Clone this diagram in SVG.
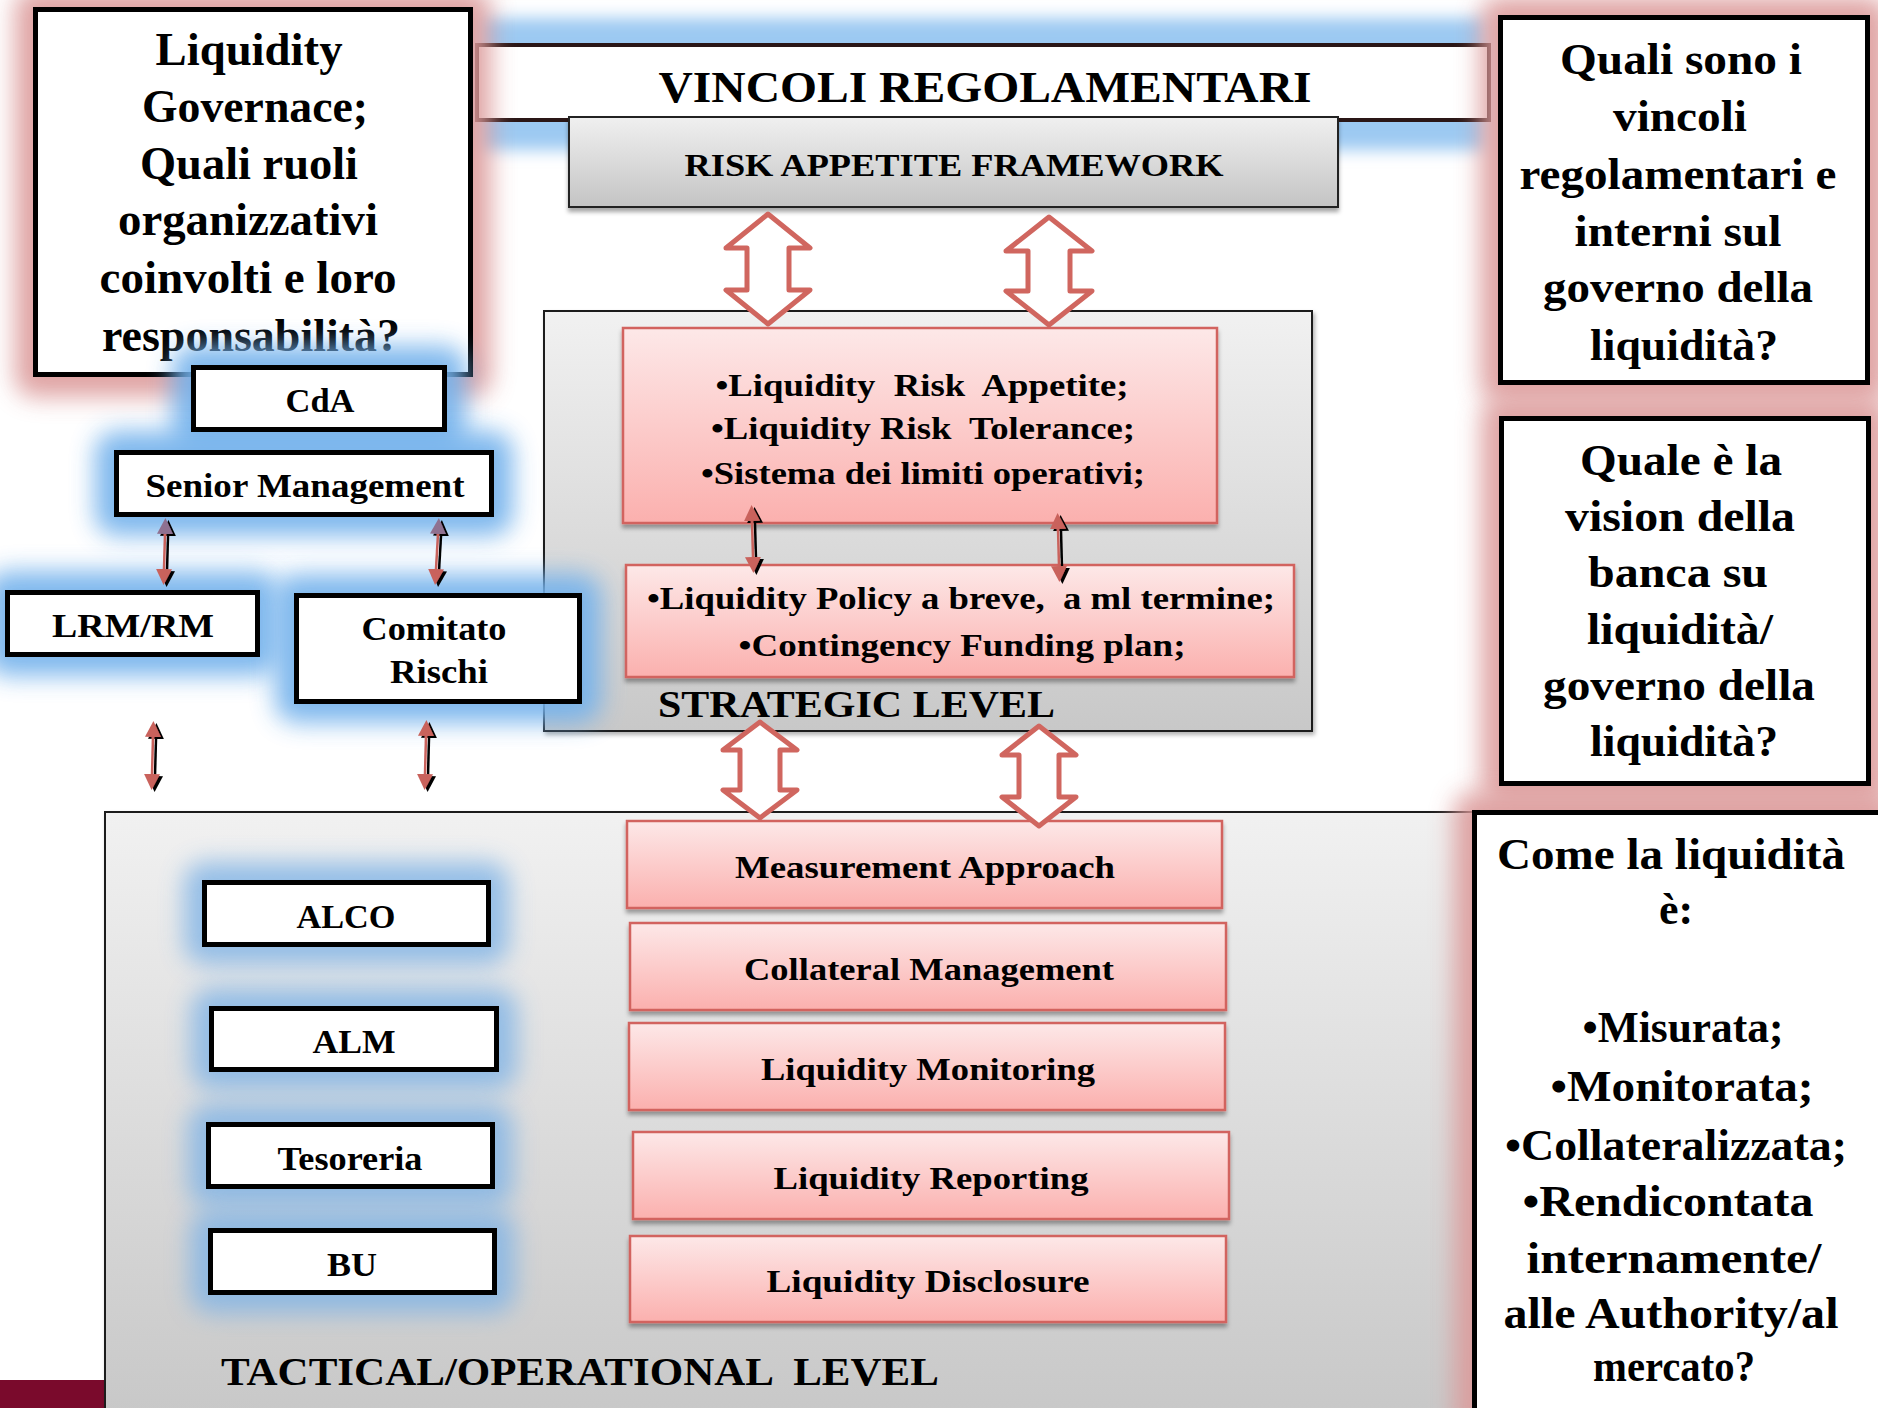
<svg xmlns="http://www.w3.org/2000/svg" width="1878" height="1408" viewBox="0 0 1878 1408">
<defs>
<style>
text{font-family:"Liberation Serif","Times New Roman",serif;font-weight:bold;fill:#000;}
.c{text-anchor:middle;}
.q{font-size:46px;}
.r{font-size:44px;}
.p{font-size:32px;}
.b{font-size:33px;}
.wbox{fill:#fff;stroke:#000;stroke-width:5;}
.pink{fill:url(#pinkG);stroke:#d2645e;stroke-width:2.5;filter:url(#sh);}
.gray{fill:url(#grayG);stroke:#1a1a1a;stroke-width:2;filter:url(#sh2);}
.bglow{fill:#74b2ec;filter:url(#blur);opacity:.92;}
.tglow{fill:#7fb3e6;filter:url(#blur);opacity:.8;}
.pglow{fill:#dc9a9a;filter:url(#blur);opacity:.9;}
.big{fill:#fff;stroke:#d0665f;stroke-width:5;stroke-linejoin:round;}
.sm{stroke:#c9625c;stroke-width:2.5;fill:none;}
</style>
<linearGradient id="pinkG" x1="0" y1="0" x2="0" y2="1"><stop offset="0" stop-color="#fde8e8"/><stop offset="1" stop-color="#fbb0ae"/></linearGradient>
<linearGradient id="grayG" x1="0" y1="0" x2="0" y2="1"><stop offset="0" stop-color="#f1f1f1"/><stop offset="1" stop-color="#c8c8c8"/></linearGradient>
<linearGradient id="rafG" x1="0" y1="0" x2="0" y2="1"><stop offset="0" stop-color="#f0f0f0"/><stop offset="1" stop-color="#c4c4c4"/></linearGradient>
<filter id="blur" x="-50%" y="-50%" width="200%" height="200%"><feGaussianBlur stdDeviation="12"/></filter>
<filter id="blurV" x="-20%" y="-50%" width="140%" height="200%"><feGaussianBlur stdDeviation="8"/></filter>
<filter id="sh" x="-10%" y="-20%" width="120%" height="150%"><feDropShadow dx="0" dy="4" stdDeviation="2" flood-color="#000" flood-opacity="0.35"/></filter>
<filter id="sh2" x="-10%" y="-10%" width="120%" height="120%"><feDropShadow dx="2" dy="3" stdDeviation="2" flood-color="#000" flood-opacity="0.3"/></filter>
<filter id="ash" x="-100%" y="-20%" width="300%" height="140%"><feOffset in="SourceAlpha" dx="2.5" dy="2" result="o"/><feMerge><feMergeNode in="o"/><feMergeNode in="SourceGraphic"/></feMerge></filter>
<marker id="hr" markerUnits="userSpaceOnUse" viewBox="0 0 16 16" markerWidth="16" markerHeight="16" refX="0" refY="8" orient="auto-start-reverse"><path d="M0,0 L16,8 L0,16 z" fill="#c9625c"/></marker>
<marker id="hp" markerUnits="userSpaceOnUse" viewBox="0 0 16 16" markerWidth="16" markerHeight="16" refX="0" refY="8" orient="auto-start-reverse"><path d="M0,0 L16,8 L0,16 z" fill="#8f7191"/></marker>
</defs>
<rect x="0" y="0" width="1878" height="1408" fill="#fff"/>
<rect x="0" y="1380" width="104" height="28" fill="#7a0a2c"/>

<g id="tactical-level">
<rect class="gray" x="105" y="812" width="1380" height="600"/>
<text x="221" y="1385" font-size="40" textLength="718" lengthAdjust="spacingAndGlyphs" xml:space="preserve">TACTICAL/OPERATIONAL  LEVEL</text>
</g>
<g id="strategic-level">
<rect class="gray" x="544" y="311" width="768" height="420"/>
<text x="658" y="717" font-size="38" textLength="397" lengthAdjust="spacingAndGlyphs">STRATEGIC LEVEL</text>
</g>

<g id="vincoli">
<rect x="480" y="18" width="1006" height="132" fill="#9cc9f2" filter="url(#blurV)"/>
<rect x="477" y="45" width="1012" height="75" fill="#fff" stroke="#2a1616" stroke-width="4"/>
<text class="c" x="985" y="102" font-size="44" textLength="653" lengthAdjust="spacingAndGlyphs">VINCOLI REGOLAMENTARI</text>
</g>

<g id="pink-glows">
<rect class="pglow" x="15" y="-11" width="476" height="408" rx="20"/>
<rect class="pglow" x="1480" y="-3" width="408" height="406" rx="20"/>
<rect class="pglow" x="1481" y="398" width="408" height="406" rx="20"/>
<rect class="pglow" x="1454" y="792" width="444" height="644" rx="20"/>
</g>

<g id="governance-question">
<rect class="wbox" x="35.5" y="9.5" width="435" height="365"/>
<text class="c q" x="249" y="65" textLength="187" lengthAdjust="spacingAndGlyphs">Liquidity</text>
<text class="c q" x="255" y="122" textLength="226" lengthAdjust="spacingAndGlyphs">Governace;</text>
<text class="c q" x="249" y="179" textLength="218" lengthAdjust="spacingAndGlyphs">Quali ruoli</text>
<text class="c q" x="248" y="235" textLength="260" lengthAdjust="spacingAndGlyphs">organizzativi</text>
<text class="c q" x="248" y="293" textLength="297" lengthAdjust="spacingAndGlyphs">coinvolti e loro</text>
<text class="c q" x="251" y="351" textLength="298" lengthAdjust="spacingAndGlyphs">responsabilità?</text>
</g>

<g id="question-vincoli">
<rect class="wbox" x="1500.5" y="17.5" width="367" height="365"/>
<text class="c r" x="1681" y="74" textLength="242" lengthAdjust="spacingAndGlyphs">Quali sono i</text>
<text class="c r" x="1680" y="131" textLength="134" lengthAdjust="spacingAndGlyphs">vincoli</text>
<text class="c r" x="1678" y="189" textLength="317" lengthAdjust="spacingAndGlyphs">regolamentari e</text>
<text class="c r" x="1678" y="246" textLength="207" lengthAdjust="spacingAndGlyphs">interni sul</text>
<text class="c r" x="1678" y="302" textLength="270" lengthAdjust="spacingAndGlyphs">governo della</text>
<text class="c r" x="1684" y="360" textLength="188" lengthAdjust="spacingAndGlyphs">liquidità?</text>
</g>

<g id="question-vision">
<rect class="wbox" x="1501.5" y="418.5" width="367" height="365"/>
<text class="c r" x="1681" y="475" textLength="202" lengthAdjust="spacingAndGlyphs">Quale è la</text>
<text class="c r" x="1680" y="531" textLength="230" lengthAdjust="spacingAndGlyphs">vision della</text>
<text class="c r" x="1678" y="587" textLength="180" lengthAdjust="spacingAndGlyphs">banca su</text>
<text class="c r" x="1680" y="644" textLength="186" lengthAdjust="spacingAndGlyphs">liquidità/</text>
<text class="c r" x="1679" y="700" textLength="272" lengthAdjust="spacingAndGlyphs">governo della</text>
<text class="c r" x="1684" y="756" textLength="188" lengthAdjust="spacingAndGlyphs">liquidità?</text>
</g>

<g id="question-come">
<rect class="wbox" x="1474.5" y="812.5" width="450" height="650"/>
<text class="c r" x="1671" y="869" textLength="348" lengthAdjust="spacingAndGlyphs">Come la liquidità</text>
<text class="c r" x="1676" y="924">è:</text>
<text class="c r" x="1683" y="1042" textLength="201" lengthAdjust="spacingAndGlyphs">•Misurata;</text>
<text class="c r" x="1682" y="1101" textLength="263" lengthAdjust="spacingAndGlyphs">•Monitorata;</text>
<text class="c r" x="1676" y="1160" textLength="342" lengthAdjust="spacingAndGlyphs">•Collateralizzata;</text>
<text class="c r" x="1668" y="1216" textLength="291" lengthAdjust="spacingAndGlyphs">•Rendicontata</text>
<text class="c r" x="1674" y="1273" textLength="295" lengthAdjust="spacingAndGlyphs">internamente/</text>
<text class="c r" x="1671" y="1328" textLength="335" lengthAdjust="spacingAndGlyphs">alle Authority/al</text>
<text class="c r" x="1674" y="1381" textLength="162" lengthAdjust="spacingAndGlyphs">mercato?</text>
</g>

<g id="risk-appetite-framework">
<rect x="569" y="117" width="769" height="90" fill="url(#rafG)" stroke="#222" stroke-width="2" filter="url(#sh)"/>
<text class="c p" x="954" y="176" textLength="539" lengthAdjust="spacingAndGlyphs">RISK APPETITE FRAMEWORK</text>
</g>

<g id="risk-appetite-box">
<rect class="pink" x="623" y="328" width="594" height="195"/>
<text class="c p" x="922" y="396" textLength="413" lengthAdjust="spacingAndGlyphs" xml:space="preserve">•Liquidity  Risk  Appetite;</text>
<text class="c p" x="923" y="439" textLength="424" lengthAdjust="spacingAndGlyphs" xml:space="preserve">•Liquidity Risk  Tolerance;</text>
<text class="c p" x="923" y="484" textLength="444" lengthAdjust="spacingAndGlyphs">•Sistema dei limiti operativi;</text>
</g>
<g id="policy-box">
<rect class="pink" x="626" y="565" width="668" height="112"/>
<text class="c p" x="961" y="609" textLength="628" lengthAdjust="spacingAndGlyphs" xml:space="preserve">•Liquidity Policy a breve,  a ml termine;</text>
<text class="c p" x="962" y="656" textLength="447" lengthAdjust="spacingAndGlyphs">•Contingency Funding plan;</text>
</g>

<g id="blue-glows">
<rect class="bglow" x="172" y="346" width="294" height="105" rx="22"/>
<rect class="bglow" x="95" y="431" width="418" height="105" rx="22"/>
<rect class="bglow" x="-14" y="571" width="293" height="105" rx="22"/>
<rect class="bglow" x="275" y="574" width="326" height="149" rx="22"/>
<rect class="tglow" x="184" y="862" width="325" height="103" rx="22"/>
<rect class="tglow" x="191" y="988" width="326" height="102" rx="22"/>
<rect class="tglow" x="188" y="1104" width="325" height="103" rx="22"/>
<rect class="tglow" x="190" y="1210" width="325" height="103" rx="22"/>
</g>

<g id="cda">
<rect class="wbox" x="193.5" y="367.5" width="251" height="62"/>
<text class="c b" x="320" y="412" textLength="69" lengthAdjust="spacingAndGlyphs">CdA</text>
</g>
<g id="senior-management">
<rect class="wbox" x="116.5" y="452.5" width="375" height="62"/>
<text class="c b" x="305" y="497" textLength="319" lengthAdjust="spacingAndGlyphs">Senior Management</text>
</g>
<g id="lrm-rm">
<rect class="wbox" x="7.5" y="592.5" width="250" height="62"/>
<text class="c b" x="133" y="637" textLength="162" lengthAdjust="spacingAndGlyphs">LRM/RM</text>
</g>
<g id="comitato-rischi">
<rect class="wbox" x="296.5" y="595.5" width="283" height="106"/>
<text class="c b" x="434" y="640" textLength="145" lengthAdjust="spacingAndGlyphs">Comitato</text>
<text class="c b" x="439" y="683" textLength="98" lengthAdjust="spacingAndGlyphs">Rischi</text>
</g>

<g id="alco">
<rect class="wbox" x="204.5" y="882.5" width="284" height="62"/>
<text class="c b" x="346" y="928" textLength="99" lengthAdjust="spacingAndGlyphs">ALCO</text>
</g>
<g id="alm">
<rect class="wbox" x="211.5" y="1008.5" width="285" height="61"/>
<text class="c b" x="354" y="1053" textLength="83" lengthAdjust="spacingAndGlyphs">ALM</text>
</g>
<g id="tesoreria">
<rect class="wbox" x="208.5" y="1124.5" width="284" height="62"/>
<text class="c b" x="350" y="1170" textLength="145" lengthAdjust="spacingAndGlyphs">Tesoreria</text>
</g>
<g id="bu">
<rect class="wbox" x="210.5" y="1230.5" width="284" height="62"/>
<text class="c b" x="352" y="1276" textLength="50" lengthAdjust="spacingAndGlyphs">BU</text>
</g>

<g id="measurement-approach">
<rect class="pink" x="627" y="821" width="595" height="87"/>
<text class="c p" x="925" y="878" textLength="380" lengthAdjust="spacingAndGlyphs">Measurement Approach</text>
</g>
<g id="collateral-management">
<rect class="pink" x="630" y="923" width="596" height="87"/>
<text class="c p" x="929" y="980" textLength="370" lengthAdjust="spacingAndGlyphs">Collateral Management</text>
</g>
<g id="liquidity-monitoring">
<rect class="pink" x="629" y="1023" width="596" height="87"/>
<text class="c p" x="928" y="1080" textLength="334" lengthAdjust="spacingAndGlyphs">Liquidity Monitoring</text>
</g>
<g id="liquidity-reporting">
<rect class="pink" x="633" y="1132" width="596" height="87"/>
<text class="c p" x="931" y="1189" textLength="315" lengthAdjust="spacingAndGlyphs">Liquidity Reporting</text>
</g>
<g id="liquidity-disclosure">
<rect class="pink" x="630" y="1236" width="596" height="86"/>
<text class="c p" x="928" y="1292" textLength="323" lengthAdjust="spacingAndGlyphs">Liquidity Disclosure</text>
</g>

<g id="connectors">
<path class="big" d="M768,214 L810,248 L789,248 L789,290 L810,290 L768,324 L726,290 L747,290 L747,248 L726,248 Z"/>
<path class="big" d="M1049,217 L1092,251 L1070,251 L1070,291 L1092,291 L1049,325 L1006,291 L1028,291 L1028,251 L1006,251 Z"/>
<path class="big" d="M760,722 L797,750 L780,750 L780,790 L797,790 L760,818 L723,790 L740,790 L740,750 L723,750 Z"/>
<path class="big" d="M1039,726 L1076,755 L1059,755 L1059,797 L1076,797 L1039,826 L1002,797 L1019,797 L1019,755 L1002,755 Z"/>
<g filter="url(#ash)">
<line class="sm" x1="165" y1="534" x2="164" y2="569" marker-start="url(#hp)" marker-end="url(#hr)"/>
<line class="sm" x1="438" y1="534" x2="436" y2="569" marker-start="url(#hp)" marker-end="url(#hr)"/>
<line class="sm" x1="153" y1="737" x2="152" y2="774" marker-start="url(#hr)" marker-end="url(#hr)"/>
<line class="sm" x1="426" y1="736" x2="425" y2="774" marker-start="url(#hr)" marker-end="url(#hr)"/>
<line class="sm" x1="752" y1="521" x2="753" y2="557" marker-start="url(#hr)" marker-end="url(#hr)"/>
<line class="sm" x1="1058" y1="529" x2="1059" y2="566" marker-start="url(#hr)" marker-end="url(#hr)"/>
</g>
</g>
</svg>
